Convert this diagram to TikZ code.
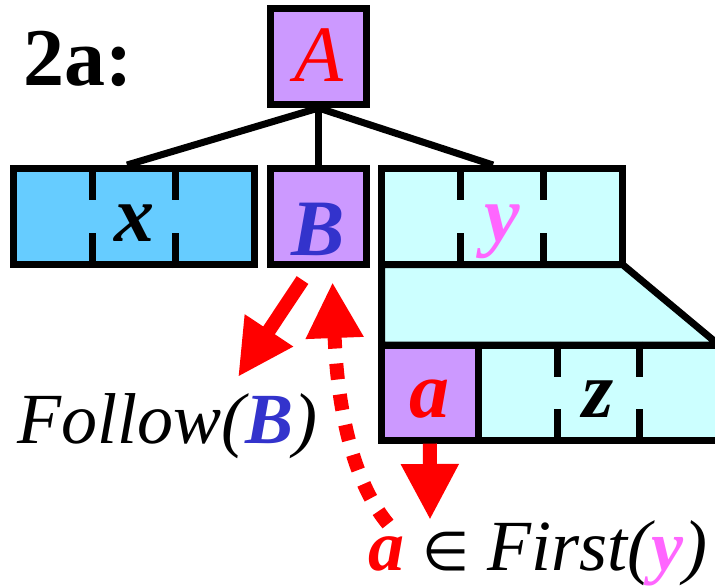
\documentclass[tikz,border=0pt]{standalone}
\usepackage{fontspec}
\setmainfont{Liberation Serif}
\newfontfamily\elemfont{DejaVu Sans}
\usetikzlibrary{arrows.meta,calc}

\definecolor{violetbox}{HTML}{CC99FF}
\definecolor{xblue}{HTML}{66CCFF}
\definecolor{ycyan}{HTML}{CCFFFF}
\definecolor{bblue}{HTML}{3333CC}
\definecolor{ypink}{HTML}{FF66FF}

\tikzset{
  cell/.style={draw, line width=3.5pt, inner sep=0pt, minimum height=48pt,
    text height=30pt, text depth=5pt,
    font=\fontsize{40}{40}\selectfont\bfseries\itshape},
  tree/.style={line width=3.5pt},
  hint/.style={red, line width=7pt, -{Triangle[length=28pt,width=27pt]}},
  bigtext/.style={inner sep=0pt, anchor=base west, font=\fontsize{36}{36}\selectfont\itshape}
}

\begin{document}
\begin{tikzpicture}[x=0.5pt, y=-0.5pt]
      \useasboundingbox (0,0) rectangle (715,586);

      \node[inner sep=0pt, anchor=base west, font=\fontsize{41}{41}\selectfont\bfseries] (title) at (23,85) {2a:};

      % y subtree, drawn under the boxes
      \draw[tree, fill=ycyan, line join=miter]
      (381.5,264.5)--(622.5,264.5)--(719,345)--(381.5,345)-- cycle;

      \node[cell, fill=violetbox, minimum width=48pt, text=red,
            font=\fontsize{40}{40}\selectfont\itshape] (A) at (318.5,56.5) {A};
      \node[cell, fill=xblue, minimum width=120.5pt] (x) at (134,216.5) {x};
      \node[cell, fill=violetbox, minimum width=48pt, text=bblue,
            text height=38.5pt, text depth=0pt] (B) at (318.5,216.5) {B};
      \node[cell, fill=ycyan, minimum width=120.5pt, text=ypink] (y) at (502,216.5) {y};
      \node[cell, fill=violetbox, minimum width=48.25pt, minimum height=47.5pt, text=red] (a) at (429.75,392.5) {a};
      \node[cell, fill=ycyan, minimum width=120.5pt, minimum height=47.5pt] (z) at (598.5,392.5) {z};

      \foreach \b in {x,y,z}
        \foreach \f in {0.333,0.667} {
          \draw[tree] ($(\b.north west)!\f!(\b.north east)$) -- ++(0,35);
          \draw[tree] ($(\b.south west)!\f!(\b.south east)$) -- ++(0,-35);
        }

      \draw[tree] (A.south) -- ([xshift=-3.5pt]x.north);
      \draw[tree] (A.south) -- (B.north);
      \draw[tree] (A.south) -- ([xshift=-4.5pt]y.north);

      \node[bigtext] (follow) at (17,443)
        {Follow(\textcolor{bblue}{\textbf{B}})};
      \node[bigtext] (first) at (368,570)
        {\textcolor{red}{\textbf{a}} {\elemfont\upshape\fontsize{27}{30}\selectfont ∈} First(\textcolor{ypink}{\textbf{y}})};

      \coordinate (followtip) at (238,377);
      \coordinate (firsttip) at (430,520);
      \coordinate (dotstart) at (388,524);

      \draw[hint] ([shift={(-8pt,-6pt)}]B.south) -- (followtip);
      \draw[hint] (a.south) -- (firsttip);
      \draw[hint, dash pattern=on 8pt off 7.5pt]
      (dotstart) .. controls (350,478) and (337,400) .. ([xshift=7pt,yshift=-7pt]B.south);

\end{tikzpicture}
\end{document}
